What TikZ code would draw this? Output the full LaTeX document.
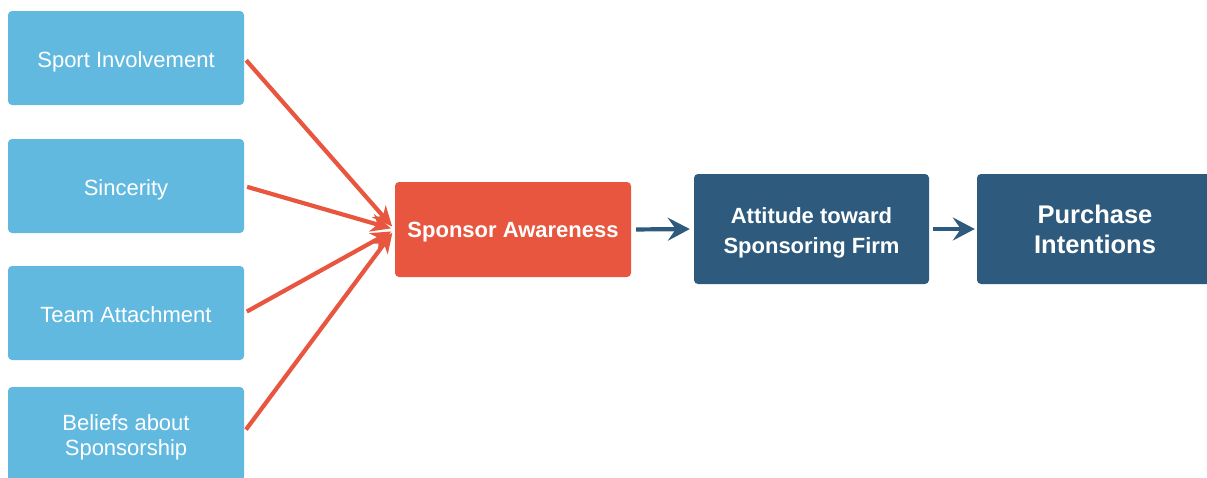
\documentclass[tikz,border=0pt]{standalone}
\usepackage{fontspec}
\setmainfont{Liberation Sans}
\usetikzlibrary{arrows.meta,positioning,calc}
\definecolor{lblue}{HTML}{62B9E0}
\definecolor{rorange}{HTML}{E8563F}
\definecolor{dblue}{HTML}{2E5B7D}
\newcommand{\dn}[2][-4pt]{\raisebox{#1}[\height][\depth]{\begin{tabular}{@{}c@{}}#2\end{tabular}}}
\tikzset{
  srcbox/.style={fill=lblue, rounded corners=4pt, minimum width=236pt, minimum height=94pt, text=white, font=\fontsize{22}{25}\selectfont, inner sep=0pt},
  awbox/.style={fill=rorange, rounded corners=4pt, minimum width=236pt, minimum height=95pt, text=white, font=\fontsize{22}{26}\selectfont\bfseries, inner sep=0pt},
  dbox/.style={fill=dblue, rounded corners=4pt, minimum height=110pt, text=white, inner sep=0pt},
  redarr/.style={draw=rorange, line width=4.2pt, -{Stealth[length=20pt,width=18pt,inset=6pt]}, shorten >=4pt, shorten <=3pt},
  bluearr/.style={draw=dblue, line width=4.2pt, -{Stealth[length=22pt,width=23pt,inset=8pt]}},
}
\begin{document}
\begin{tikzpicture}[x=1pt,y=-1pt]
\useasboundingbox (0,0) rectangle (1207,477);
\node[srcbox] (si) at (126,58) {\dn{Sport Involvement}};
\node[srcbox] (sc) at (126,186) {\dn{Sincerity}};
\node[srcbox] (ta) at (126,313) {\dn{Team Attachment}};
\node[srcbox] (bs) at (126,434) {\dn{Beliefs about\\Sponsorship}};
\node[awbox] (sa) at (513,229.5) {\dn[-3pt]{Sponsor Awareness}};
\node[dbox, minimum width=235pt, font=\fontsize{22}{30}\selectfont\bfseries] (at) at (811.5,229) {\dn[-3.5pt]{Attitude toward\\Sponsoring Firm}};
\node[dbox, minimum width=236pt, font=\fontsize{25.5}{30}\selectfont\bfseries] (pi) at (1095,229) {\dn[-3pt]{Purchase\\Intentions}};
\draw[redarr] (si.east) -- (sa.west);
\draw[redarr] (sc.east) -- (sa.west);
\draw[redarr] (ta.east) -- (sa.west);
\draw[redarr] ($(bs.east)+(0,-2)$) -- (sa.west);
\draw[bluearr, shorten <=5pt, shorten >=4pt] (sa.east) -- (at.west);
\draw[bluearr, shorten <=4pt, shorten >=2pt] (at.east) -- (pi.west);
\end{tikzpicture}
\end{document}
